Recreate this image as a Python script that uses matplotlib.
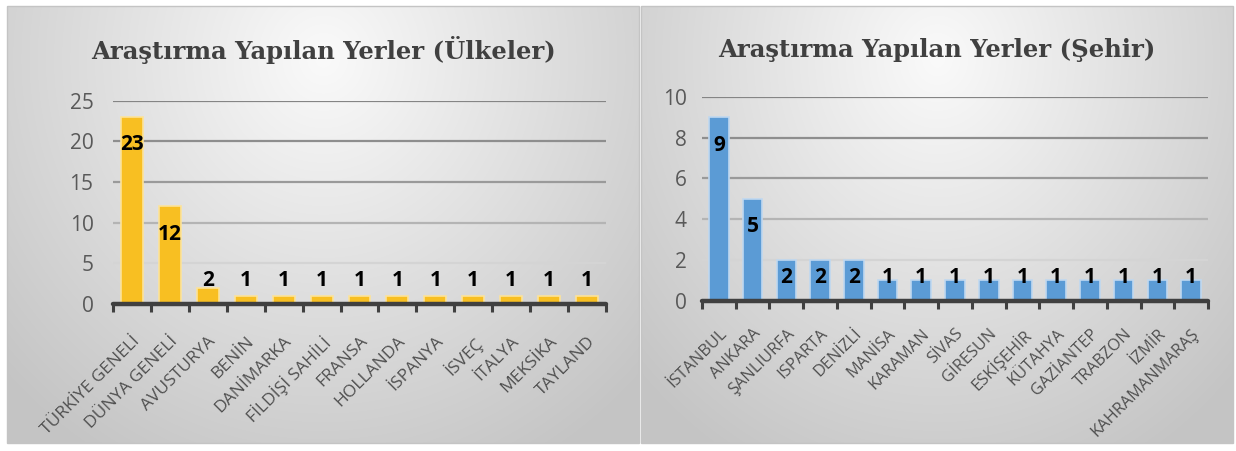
import numpy as np
import matplotlib
matplotlib.use("Agg")
import matplotlib.pyplot as plt
from matplotlib.patches import Rectangle

# %% data
ulkeler = ['TÜRKİYE GENELİ', 'DÜNYA GENELİ', 'AVUSTURYA', 'BENİN', 'DANİMARKA',
           'FİLDİŞİ SAHİLİ', 'FRANSA', 'HOLLANDA', 'İSPANYA', 'İSVEÇ', 'İTALYA',
           'MEKSİKA', 'TAYLAND']
ulke_sayi = [23, 12, 2, 1, 1, 1, 1, 1, 1, 1, 1, 1, 1]

sehirler = ['İSTANBUL', 'ANKARA', 'ŞANLIURFA', 'ISPARTA', 'DENİZLİ', 'MANİSA',
            'KARAMAN', 'SİVAS', 'GİRESUN', 'ESKİŞEHİR', 'KÜTAHYA', 'GAZİANTEP',
            'TRABZON', 'İZMİR', 'KAHRAMANMARAŞ']
sehir_sayi = [9, 5, 2, 2, 2, 1, 1, 1, 1, 1, 1, 1, 1, 1, 1]

ulke_yticks = [0, 5, 10, 15, 20, 25]
sehir_yticks = [0, 2, 4, 6, 8, 10]

# %% figure
W, H = 1236, 451
fig = plt.figure(figsize=(W / 100, H / 100), dpi=100)
fig.set_facecolor('white')

def box(x0, y0, x1, y1):
    return [x0 / W, 1 - y1 / H, (x1 - x0) / W, (y1 - y0) / H]

# background panels with radial gradient
panels = [(7, 6, 639, 443), (641, 6, 1233, 443)]
img = np.ones((H, W, 3))
for (x0, y0, x1, y1) in panels:
    pw, ph = x1 - x0, y1 - y0
    xx, yy = np.meshgrid(np.arange(pw), np.arange(ph))
    d = np.sqrt(((xx - pw / 2) / (pw * 0.62)) ** 2 + ((yy - ph * 0.12) / (ph * 0.95)) ** 2)
    val = np.clip(250 - 48 * d, 196, 250) / 255
    img[y0:y1, x0:x1, :] = val[:, :, None]

bg = fig.add_axes([0, 0, 1, 1])
bg.imshow(img, extent=(0, W, H, 0), aspect='auto', zorder=0)
bg.set_xlim(0, W)
bg.set_ylim(H, 0)
bg.axis('off')
for (x0, y0, x1, y1) in panels:
    bg.add_patch(Rectangle((x0, y0), x1 - x0, y1 - y0, fill=False, ec='#c4c4c4', lw=1, zorder=2))


def rect_h(rect):
    return rect[3] - rect[1]


def draw_chart(rect, cats, vals, yticks, color, edge, grid_cols, ypad, xfs, xpad):
    ax = fig.add_axes(box(*rect))
    ax.set_facecolor('none')
    n = len(cats)
    x = np.arange(n)
    ax.bar(x, vals, width=0.58, color=color, edgecolor=edge, linewidth=1.2, zorder=3)
    ax.set_xlim(-0.5, n - 0.5)
    ax.set_ylim(0, yticks[-1])
    for y, c in zip(yticks[1:], grid_cols):
        ax.axhline(y, color=c, lw=1.6, zorder=1)
    for s in ['top', 'right', 'left']:
        ax.spines[s].set_visible(False)
    ax.spines['bottom'].set_linewidth(3.2)
    ax.spines['bottom'].set_color('#404040')
    ax.spines['bottom'].set_capstyle('round')
    ax.spines['bottom'].set_zorder(4)
    ax.set_yticks(yticks)
    ax.set_yticklabels([str(v) for v in yticks], fontsize=15, color='#595959', family='Open Sans')
    ax.tick_params(axis='y', length=0, pad=ypad)
    ax.set_xticks(x)
    ax.set_xticklabels(cats, rotation=45, ha='right', va='top', rotation_mode='anchor',
                       fontsize=xfs, color='#505050', family='Open Sans')
    ax.tick_params(axis='x', which='major', length=0, pad=xpad)
    ax.set_xticks(np.arange(-0.5, n), minor=True)
    ax.tick_params(axis='x', which='minor', length=6, width=2.2, color='#404040', direction='out')

    # data labels
    ppu = rect_h(rect) / yticks[-1]
    for xi, v in zip(x, vals):
        top = v * ppu
        c = max(top - 28, 23)
        ax.annotate(str(v), (xi, 0), xytext=(0, c * 0.72), textcoords='offset points',
                    ha='center', va='center', fontsize=15, fontweight='bold',
                    family='Open Sans', color='black', zorder=5)
    return ax


draw_chart((113, 100.7, 606, 304), ulkeler, ulke_sayi, ulke_yticks, '#F8BF22', '#FCE39A',
           ['#d4d4d4', '#b4b4b4', '#9a9a9a', '#8e8e8e', '#858585'], 14, 12.5, 21)
draw_chart((702, 96.7, 1208, 300.7), sehirler, sehir_sayi, sehir_yticks, '#5B9BD5', '#BFD8F0',
           ['#d4d4d4', '#b4b4b4', '#9a9a9a', '#8e8e8e', '#858585'], 11, 11.8, 18)

fig.text(323 / W, 1 - 50 / H, 'Araştırma Yapılan Yerler (Ülkeler)', ha='center', va='center',
         fontsize=17.5, fontweight='bold', family='DejaVu Serif', color='#404040')
fig.text(937 / W, 1 - 50 / H, 'Araştırma Yapılan Yerler (Şehir)', ha='center', va='center',
         fontsize=17.5, fontweight='bold', family='DejaVu Serif', color='#404040')

fig.savefig('out.png', dpi=100)
